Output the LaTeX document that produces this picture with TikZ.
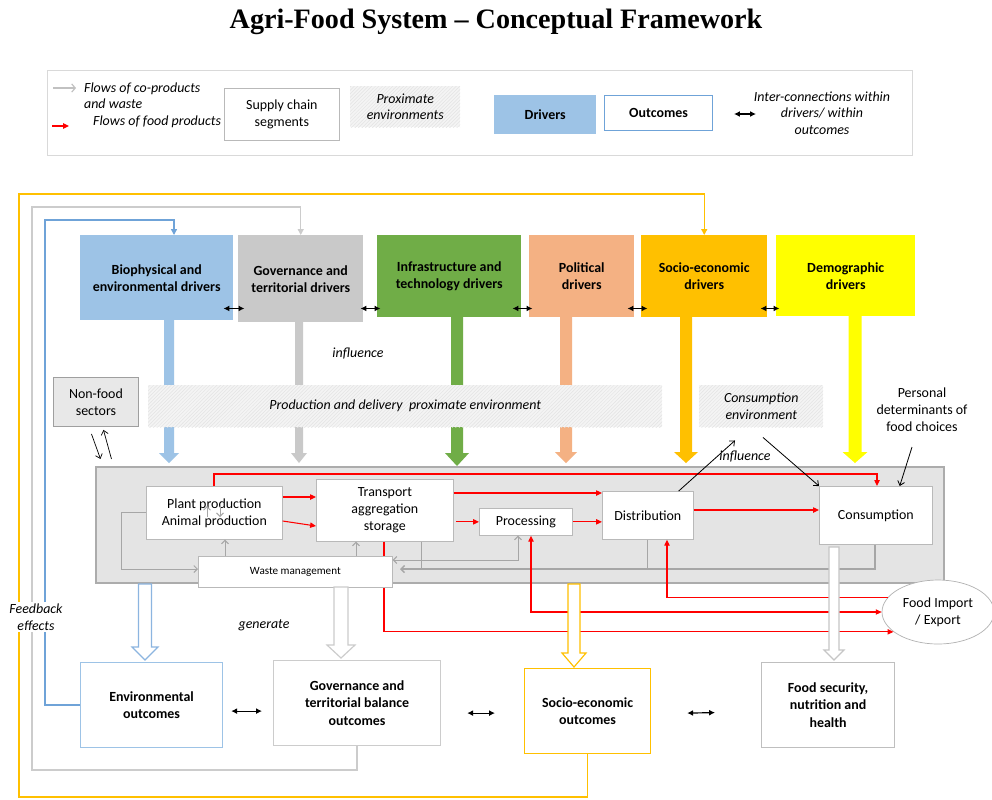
\documentclass[tikz,border=0pt]{standalone}
\usepackage{fontspec}
\setmainfont{Carlito}
\newfontfamily\titlefont{Liberation Serif}
\usetikzlibrary{arrows.meta,patterns,shapes.geometric}

\newlength{\pxu}\setlength{\pxu}{0.03cm}
\newcommand{\bodysize}{\fontsize{11.9}{14.6}\selectfont}
\newcommand{\legsize}{\fontsize{11.9}{14}\selectfont}

\definecolor{bioblue}{HTML}{9DC3E6}
\definecolor{govgray}{HTML}{C9C9C9}
\definecolor{infgreen}{HTML}{70AD47}
\definecolor{polsalmon}{HTML}{F4B183}
\definecolor{socorange}{HTML}{FFC000}
\definecolor{demyellow}{HTML}{FFFF00}
\definecolor{lineblue}{HTML}{6FA3D8}
\definecolor{flowgray}{HTML}{A6A6A6}
\definecolor{chainbg}{HTML}{E4E4E4}
\definecolor{foodred}{HTML}{FF0000}

% block arrow: style, x, ytop, ytip, half shaft, half head, head length
\newcommand{\fatarrow}[7]{%
  \path[#1] ({#2-#5},#3) -- ({#2+#5},#3) -- ({#2+#5},{#4-#7}) -- ({#2+#6},{#4-#7})
    -- (#2,#4) -- ({#2-#6},{#4-#7}) -- ({#2-#5},{#4-#7}) -- cycle;}

\tikzset{
  wh/.style 2 args={minimum width=#1\pxu, minimum height=#2\pxu},
  drvbox/.style={anchor=north west, inner sep=0pt, align=center, font=\bfseries\bodysize},
  segbox/.style={anchor=north west, inner sep=0pt, align=center, draw=gray!55, fill=white, line width=0.6pt, font=\bodysize},
  outbox/.style={anchor=north west, inner sep=0pt, align=center, fill=white, line width=1pt, font=\bfseries\bodysize},
  envband/.style={anchor=north west, inner sep=0pt, align=center, fill=gray!9, postaction={pattern=north east lines, pattern color=gray!22}, font=\itshape\bodysize},
  note/.style={align=center, font=\itshape\bodysize},
  redflow/.style={foodred, line width=0.9pt, -{Triangle[length=5pt,width=4.5pt]}},
  grayflow/.style={flowgray, line width=0.8pt, -{Straight Barb[length=3pt,width=6pt]}},
  blkarr/.style={black, line width=0.7pt, -{Straight Barb[length=3.5pt,width=6pt]}},
  dbl/.style={black, line width=1pt, {Latex[length=5pt,width=5pt]}-{Latex[length=5pt,width=5pt]}},
  fback/.style={line width=1.1pt, -{Triangle[length=5pt,width=5pt]}},
}

\begin{document}
\begin{tikzpicture}[x=0.03cm, y=-0.03cm]
\useasboundingbox (0,0) rectangle (992,799);
\fill[white] (0,0) rectangle (992,799);

% title
\node[font=\titlefont\bfseries\fontsize{24}{28}\selectfont] (title) at (496,22) {Agri-Food System – Conceptual Framework};

% legend
\node[anchor=north west, wh={865}{85}, draw=gray!30, line width=0.8pt, inner sep=0pt] (legend) at (47,70) {};
\draw[flowgray!70, line width=1pt, -{Straight Barb[length=3pt,width=7pt]}] (53,88) -- (76,88);
\draw[foodred, line width=1pt, -{Triangle[length=5pt,width=4.5pt]}] (52,126) -- (69,126);
\node[anchor=west, align=left, font=\itshape\legsize] (legco) at (80,96) {Flows of co-products\\and waste};
\node[anchor=west, font=\itshape\legsize] (legfood) at (89,122) {Flows of food products};
\node[segbox, wh={115}{52}, font=\legsize] (legseg) at (224,88) {Supply chain\\segments};
\node[envband, wh={110}{41}, font=\itshape\legsize] (legprox) at (350,86) {Proximate\\environments};
\node[drvbox, wh={102}{39}, fill=bioblue, font=\bfseries\legsize] (legdrv) at (494,95) {Drivers};
\node[outbox, wh={108}{35}, draw=lineblue, font=\bfseries\legsize] (legout) at (604,95) {Outcomes};
\draw[dbl] (734,114) -- (756,114);
\node[align=center, font=\itshape\legsize] (leginter) at (822,113) {Inter-connections within\\drivers/ within\\outcomes};

% drivers
\node[drvbox, wh={153}{85}, fill=bioblue] (bio) at (80,235) {Biophysical and\\environmental drivers};
\node[drvbox, wh={125}{87}, fill=govgray] (gov) at (238,235) {Governance and\\territorial drivers};
\node[drvbox, wh={144}{82}, fill=infgreen] (infra) at (377,235) {Infrastructure and\\technology drivers};
\node[drvbox, wh={105}{82}, fill=polsalmon] (pol) at (529,235) {Political\\drivers};
\node[drvbox, wh={126}{82}, fill=socorange] (soc) at (641,235) {Socio-economic\\drivers};
\node[drvbox, wh={139}{81}, fill=demyellow] (demo) at (776,235) {Demographic\\drivers};
\draw[dbl] ([shift={(-10,-12)}]bio.south east) -- ++(21,0);
\draw[dbl] ([shift={(-3,-14)}]gov.south east) -- ++(20,0);
\draw[dbl] ([shift={(-9,-9)}]infra.south east) -- ++(20,0);
\draw[dbl] ([shift={(-7,-9)}]pol.south east) -- ++(20,0);
\draw[dbl] ([shift={(-7,-9)}]soc.south east) -- ++(19,0);

% influence of drivers
\fatarrow{fill=bioblue}{169}{320}{463}{5}{10}{10}
\fatarrow{fill=govgray}{299}{322}{463}{4}{8}{10}
\fatarrow{fill=infgreen}{457}{317}{466}{6}{12}{13}
\fatarrow{fill=polsalmon}{566}{317}{463}{6}{11}{11}
\fatarrow{fill=socorange}{686}{317}{463}{6}{12}{11}
\fatarrow{fill=demyellow}{855}{316}{463}{6.5}{12.5}{11}

\node[envband, wh={514}{42}] (prodenv) at (148,385) {Production and delivery\ \ proximate environment};
\node[envband, wh={124}{42}] (consenv) at (699,385) {Consumption\\environment};
\node[note] (infl1) at (358,354) {influence};
\node[align=center, font=\bodysize] (personal) at (922,410) {Personal\\determinants of\\food choices};
\node[anchor=north west, wh={85}{49}, inner sep=0pt, fill=gray!18, draw=gray!75, line width=0.8pt, align=center, font=\bodysize] (nonfood) at (53,377) {Non-food\\sectors};
\draw[blkarr, line width=0.6pt] ([shift={(-4.5,7)}]nonfood.south) -- ++(9,25);
\draw[blkarr, line width=0.6pt] ([shift={(15.5,32)}]nonfood.south) -- ([shift={(7.5,3)}]nonfood.south);

% supply chain
\node[anchor=north west, wh={848}{116}, inner sep=0pt, fill=chainbg, draw=gray!65, line width=1.3pt] (chain) at (95,466) {};
\node[segbox, wh={136}{53}] (plant) at (146,486) {Plant production\\Animal production};
\node[segbox, wh={137}{62}] (trans) at (316,479) {Transport\\aggregation\\storage};
\node[segbox, wh={93}{27}] (proc) at (479,508) {Processing};
\node[segbox, wh={91}{48}] (dist) at (602,491) {Distribution};
\node[segbox, wh={113}{58}] (cons) at (819,486) {Consumption};
\node[ellipse, draw=gray!60, fill=white, line width=0.6pt, minimum width=112\pxu, minimum height=64\pxu, inner sep=0pt, align=center, font=\bodysize] (trade) at (938,612) {Food Import\\/ Export};

\draw[redflow] (384,0 |- trans.south) |- (trade.204);
\node[segbox, wh={194}{31}, font=\fontsize{9.5}{11}\selectfont] (waste) at (198,556) {Waste management};

% co-products and waste
\draw[grayflow] (207,517) -- (207,506);
\draw[grayflow] (220,506) -- (220,517);
\draw[grayflow] (225,0 |- waste.north) -- (225,0 |- plant.south);
\draw[grayflow] (356,0 |- waste.north) -- (356,0 |- trans.south);
\draw[grayflow] (plant.west) -- (121,0 |- plant.west) |- (waste.west |- 0,569);
\draw[grayflow, {Straight Barb[length=3pt,width=6pt]}-{Straight Barb[length=3pt,width=6pt]}] (waste.east |- 0,560) -| (518,0 |- proc.south);
\draw[flowgray, line width=0.8pt] (421,0 |- trans.south) -- (421,569);
\draw[flowgray, line width=0.8pt] (dist.south) -- (dist.south |- 0,569);
\draw[grayflow, line width=1.2pt] (875,0 |- cons.south) |- (400,569);

% food products
\draw[redflow] (214,0 |- plant.north) |- (877,474) -- (877,0 |- cons.north);
\draw[redflow] (plant.east |- 0,497) -- (trans.west |- 0,497);
\draw[redflow] (plant.east |- 0,521) -- (trans.west |- 0,526);
\draw[redflow] (trans.east |- 0,493) -- (dist.west |- 0,493);
\draw[redflow] (456,0 |- proc.west) -- (proc.west);
\draw[redflow] (proc.east) -- (dist.west |- proc.east);
\draw[redflow] (dist.east |- 0,510) -- (cons.west |- 0,510);
\draw[redflow, {Triangle[length=5pt,width=4.5pt]}-{Triangle[length=5pt,width=4.5pt]}] (trade.west) -| (531,0 |- proc.south);
\draw[redflow] (trade.164) -| (667,0 |- dist.south);

% consumption environment
\draw[blkarr] ([xshift=-15\pxu]dist.north east) -- ([shift={(36,13)}]consenv.south west);
\draw[blkarr] ([shift={(64,10)}]consenv.south west) -- (cons.north west);
\draw[blkarr] ([shift={(-10,37)}]personal.center) -- ([xshift=-33\pxu]cons.north east);
\node[note] (infl2) at (745,457) {influence};

% outcomes
\fatarrow{draw=lineblue!80, fill=white, line width=1pt}{145}{584}{660}{6.5}{13}{13}
\fatarrow{draw=gray!40, fill=white, line width=1pt}{341}{587}{658}{7}{14}{13}
\fatarrow{draw=socorange, fill=white, line width=1pt}{574}{584}{667}{6}{12}{14}
\fatarrow{draw=gray!45, fill=white, line width=1pt}{834}{547}{660}{5}{10}{10}
\node[note] (gen) at (264,625) {generate};

\node[outbox, wh={142}{85}, draw=bioblue] (envout) at (80,662) {Environmental\\outcomes};
\node[outbox, wh={167}{85}, draw=gray!40] (govout) at (273,660) {Governance and\\territorial balance\\outcomes};
\node[outbox, wh={126}{85}, draw=socorange] (socout) at (524,668) {Socio-economic\\outcomes};
\node[outbox, wh={133}{85}, draw=gray!50] (foodout) at (761,662) {Food security,\\nutrition and\\health};
\draw[dbl] ([shift={(8,6)}]envout.east) -- ([shift={(-11,8)}]govout.west);
\draw[dbl] ([shift={(26,10)}]govout.east) -- ([shift={(-29,2)}]socout.west);
\draw[dbl] ([shift={(36,2)}]socout.east) -- ([shift={(-46,7.5)}]foodout.west);

% feedback effects
\draw[fback, lineblue] (envout.west) -| (45,220) -| (174,0 |- bio.north);
\draw[fback, gray!40] (govout.south) |- (32,770) |- (gov.north |- 0,207) -- (gov.north);
\draw[fback, socorange] (socout.south) |- (19,797) |- (soc.north |- 0,194) -- (soc.north);
\node[note, fill=white, inner sep=1pt] (fblabel) at (36,617) {Feedback\\effects};
\end{tikzpicture}
\end{document}
